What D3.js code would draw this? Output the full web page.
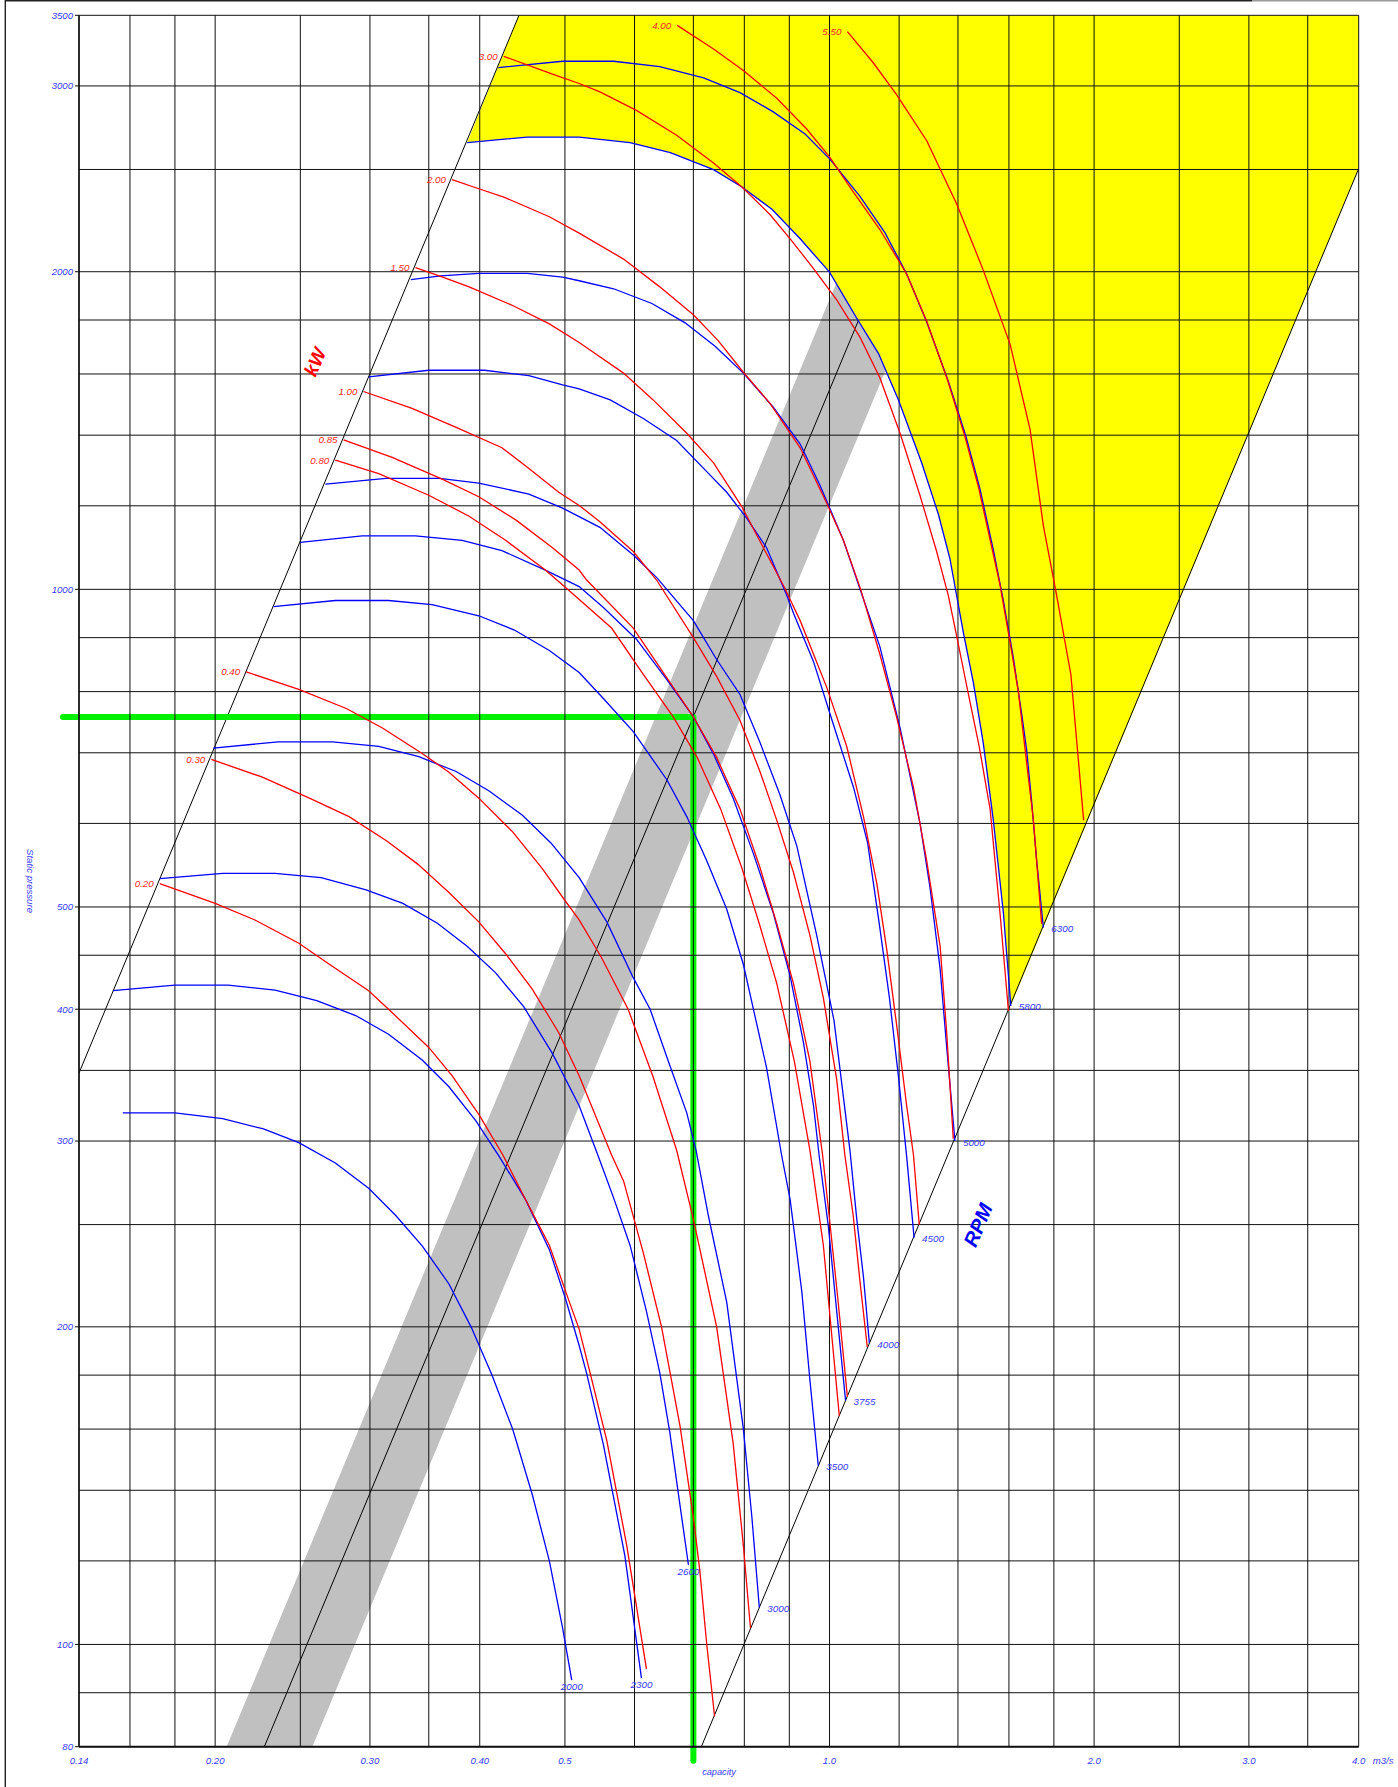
<!DOCTYPE html>
<html><head><meta charset="utf-8">
<script src="https://cdn.jsdelivr.net/npm/d3@7"></script>
<style>
body{margin:0;background:#fff}
text{font-family:"Liberation Sans",Arial,Helvetica,sans-serif;font-style:italic}
</style>
</head><body>
<svg id="c" width="1398" height="1787"></svg>
<script>
// ---------- axes / grid ----------
const xGrid = [0.14,0.16,0.18,0.2,0.25,0.3,0.35,0.4,0.5,0.6,0.7,0.8,0.9,1.0,1.2,1.4,1.6,1.8,2.0,2.5,3.0,3.5,4.0];
const yGrid = [80,90,100,120,140,160,180,200,250,300,350,400,450,500,600,700,800,900,1000,1200,1400,1600,1800,2000,2500,3000,3500];
const xTickValues = [0.14,0.20,0.30,0.40,0.5,1.0,2.0,3.0,4.0];
const xTickLabels = ["0.14","0.20","0.30","0.40","0.5","1.0","2.0","3.0","4.0"];
const yTickValues = [3500,3000,2000,1000,500,400,300,200,100,80];

// ---------- fan curves (capacity m3/s, static pressure) ----------
const rpm2000 = [[0.157,319],[0.180,319],[0.204,315],[0.227,308],[0.249,299],[0.274,286],[0.299,270.6],[0.321,255],[0.344,238.7],[0.369,219.6],[0.391,200],[0.413,180],[0.436,160],[0.459,138.7],[0.480,120],[0.497,103.6],[0.509,92.5]];
const rpm2300 = [[0.153,416.5],[0.180,421.6],[0.207,421.6],[0.234,417],[0.261,407.6],[0.289,394.5],[0.315,378.7],[0.344,358],[0.369,337.7],[0.396,313.5],[0.421,290],[0.451,264],[0.480,236.7],[0.501,212.4],[0.519,192],[0.529,181],[0.553,154.7],[0.585,121.4],[0.611,92.9]];
const rpm2600 = [[0.173,532],[0.204,538],[0.234,538],[0.264,533],[0.297,519],[0.327,504],[0.358,482.5],[0.387,459],[0.417,433],[0.449,402],[0.484,363],[0.519,324],[0.545,291],[0.568,265],[0.593,239],[0.619,207],[0.641,181],[0.658,159],[0.673,139],[0.691,119]];
const rpm3000 = [[0.199,707],[0.236,717],[0.272,717],[0.307,710],[0.341,694],[0.376,672],[0.410,644],[0.447,611],[0.482,575],[0.519,533],[0.558,484],[0.598,428.5],[0.625,400],[0.658,354],[0.688,319],[0.705,294],[0.728,255],[0.764,211],[0.798,160],[0.816,132],[0.832,108.4]];
const rpm3500 = [[0.233,963],[0.274,976],[0.315,976],[0.353,967],[0.399,944],[0.438,915],[0.480,875],[0.519,834],[0.553,788],[0.598,733],[0.653,660],[0.688,609],[0.725,553],[0.764,497.5],[0.798,441],[0.848,352],[0.882,291],[0.902,264],[0.930,216],[0.950,178],[0.971,147.7]];
const rpm3755 = [[0.250,1108],[0.294,1124],[0.338,1124],[0.382,1113],[0.424,1088],[0.475,1043],[0.519,1006],[0.553,961],[0.603,897],[0.653,821],[0.700,757],[0.738,698],[0.777,634],[0.819,562],[0.863,493.5],[0.902,430],[0.934,372],[0.959,324],[0.973,291],[0.997,249],[1.019,207],[1.043,170.2]];
const rpm4000 = [[0.267,1258],[0.313,1274],[0.360,1274],[0.399,1261],[0.455,1231],[0.497,1194],[0.548,1145],[0.598,1078],[0.636,1026],[0.700,934],[0.744,858],[0.791,795],[0.834,715],[0.878,639],[0.918,571],[0.967,470],[1.012,390],[1.055,294],[1.074,253],[1.093,223],[1.110,193]];
const rpm4500 = [[0.299,1590],[0.350,1613],[0.405,1613],[0.455,1594],[0.497,1562],[0.519,1549],[0.563,1512],[0.614,1452],[0.670,1384],[0.719,1302],[0.764,1236],[0.805,1168],[0.848,1095],[0.894,987],[0.910,949],[0.959,854],[1.010,745],[1.065,649],[1.105,575],[1.140,480],[1.170,410],[1.198,345],[1.224,290],[1.248,243]];
const rpm5000 = [[0.334,1966],[0.361,1982],[0.399,1993],[0.453,1993],[0.497,1977],[0.519,1961],[0.568,1927],[0.628,1866],[0.685,1789],[0.741,1700],[0.798,1603],[0.863,1488],[0.926,1373],[0.975,1256],[1.037,1113],[1.088,990],[1.141,882.5],[1.203,739],[1.268,599],[1.301,522],[1.336,437],[1.359,369],[1.389,300]];
const rpm5800 = [[0.387,2651],[0.453,2683],[0.519,2683],[0.593,2651],[0.659,2594],[0.738,2499],[0.795,2406],[0.860,2292],[0.926,2149],[1.000,1998],[1.074,1807],[1.137,1673],[1.198,1512],[1.273,1318],[1.330,1178],[1.371,1069],[1.395,987],[1.420,910],[1.458,815],[1.496,715],[1.536,604],[1.577,493.5],[1.608,403]];
const rpm6300 = [[0.420,3123],[0.497,3166],[0.568,3166],[0.641,3129],[0.719,3053],[0.791,2956],[0.863,2835],[0.938,2701],[1.001,2557],[1.083,2358],[1.157,2176],[1.224,1990],[1.290,1792],[1.365,1575],[1.430,1395],[1.483,1245],[1.536,1090],[1.577,975],[1.619,860],[1.655,760],[1.676,704],[1.698,630],[1.721,552],[1.751,478]];

// ---------- power curves (kW) ----------
const kw020 = [[0.173,526],[0.200,504],[0.222,486],[0.249,462],[0.270,441],[0.299,416.5],[0.315,400],[0.350,368],[0.372,346],[0.399,318],[0.425,291],[0.451,264],[0.480,239],[0.505,212],[0.519,199],[0.534,181],[0.558,156],[0.588,124],[0.619,94.8]];
const kw030 = [[0.198,690],[0.226,664],[0.256,634],[0.284,609],[0.313,578],[0.340,549],[0.369,516],[0.399,484],[0.428,451.5],[0.459,418],[0.492,380],[0.519,346],[0.565,291],[0.583,275],[0.614,235],[0.644,200],[0.676,161],[0.700,132],[0.712,117.4],[0.725,100],[0.740,85.5]];
const kw040 = [[0.217,835],[0.249,804],[0.282,771],[0.310,739],[0.344,699],[0.369,671],[0.399,634],[0.436,589],[0.471,544],[0.501,506],[0.519,486],[0.550,448],[0.590,400],[0.630,345],[0.670,294],[0.700,253],[0.744,200],[0.777,155],[0.798,124],[0.813,103.6]];
const kw080 = [[0.274,1326],[0.307,1287],[0.350,1228],[0.389,1173],[0.428,1113],[0.475,1043],[0.505,998],[0.565,919],[0.612,834],[0.664,757],[0.707,693],[0.752,619],[0.795,544],[0.832,482],[0.871,423],[0.912,357],[0.950,294],[0.984,239],[1.001,205],[1.026,164.7]];
const kw085 = [[0.280,1386],[0.318,1334],[0.363,1271],[0.399,1224],[0.440,1163],[0.484,1095],[0.519,1043],[0.529,1021],[0.598,919],[0.647,834],[0.700,757],[0.744,693],[0.791,619],[0.834,544],[0.871,482],[0.910,423],[0.950,357],[0.982,291],[1.001,251],[1.023,211],[1.048,171.6]];
const kw100 = [[0.295,1540],[0.335,1484],[0.376,1424],[0.424,1362],[0.455,1302],[0.492,1236],[0.519,1201],[0.548,1159],[0.598,1086],[0.636,1020],[0.700,900],[0.744,827],[0.791,751],[0.834,671],[0.871,604],[0.910,539],[0.950,470],[0.984,410],[1.019,343],[1.041,291],[1.064,255],[1.083,221],[1.104,191.4]];
const kw150 = [[0.338,2018],[0.363,1977],[0.389,1935],[0.436,1858],[0.480,1785],[0.519,1714],[0.534,1686],[0.583,1603],[0.630,1512],[0.688,1406],[0.738,1318],[0.795,1197],[0.841,1095],[0.888,1005],[0.926,934],[0.993,807],[1.046,710],[1.093,609],[1.132,526],[1.162,455],[1.192,387],[1.224,324],[1.246,291],[1.265,250]];
const kw200 = [[0.372,2445],[0.399,2397],[0.426,2354],[0.480,2255],[0.519,2176],[0.583,2056],[0.641,1935],[0.700,1821],[0.747,1721],[0.798,1606],[0.856,1500],[0.926,1362],[0.993,1206],[1.037,1113],[1.085,1000],[1.141,868],[1.192,757],[1.246,649],[1.290,553],[1.336,459],[1.359,381],[1.383,301.6]];
const kw300 = [[0.426,3200],[0.484,3078],[0.519,3016],[0.548,2961],[0.603,2844],[0.670,2694],[0.738,2536],[0.795,2406],[0.856,2265],[0.902,2149],[0.959,2014],[1.019,1881],[1.083,1734],[1.141,1587],[1.203,1406],[1.268,1226],[1.324,1086],[1.365,987],[1.395,904],[1.439,795],[1.480,710],[1.523,619],[1.563,493.5],[1.598,398.4]];
const kw400 = [[0.671,3424],[0.738,3252],[0.798,3103],[0.871,2920],[0.942,2731],[1.001,2567],[1.055,2406],[1.141,2193],[1.224,1990],[1.290,1795],[1.362,1580],[1.425,1398],[1.478,1248],[1.530,1095],[1.563,1010],[1.605,890],[1.640,800],[1.662,727],[1.706,604],[1.743,482]];
const kw550 = [[1.048,3377],[1.122,3154],[1.192,2944],[1.290,2662],[1.395,2320],[1.496,2007],[1.605,1707],[1.691,1418],[1.751,1149],[1.813,987],[1.882,830],[1.946,604]];

const rpmSeries = [
  {label:"2000", pts:rpm2000},{label:"2300", pts:rpm2300},{label:"2600", pts:rpm2600},
  {label:"3000", pts:rpm3000},{label:"3500", pts:rpm3500},{label:"3755", pts:rpm3755},
  {label:"4000", pts:rpm4000},{label:"4500", pts:rpm4500},{label:"5000", pts:rpm5000},
  {label:"5800", pts:rpm5800},{label:"6300", pts:rpm6300}
];
const kwSeries = [
  {label:"0.20", pts:kw020},{label:"0.30", pts:kw030},{label:"0.40", pts:kw040},
  {label:"0.80", pts:kw080},{label:"0.85", pts:kw085},{label:"1.00", pts:kw100},
  {label:"1.50", pts:kw150},{label:"2.00", pts:kw200},{label:"3.00", pts:kw300},
  {label:"4.00", pts:kw400},{label:"5.50", pts:kw550}
];
const rpmLabelsBelow = ["2000","2300","2600"];

// boundary lines, system curve, tolerance band, duty point
const kwBoundary  = [[0.14,348],[0.4433,3500]];
const rpmBoundary = [[0.7148,80],[4.0,2505]];
const systemLine  = [[0.2275,80],[1.10,1870]];
const bandLow     = [[0.2061,80],[1.129,2400]];
const bandHigh    = [[0.258,80],[1.413,2400]];
const dutyPoint   = [0.70,757];

// ---------- drawing ----------
const M = {l:79, t:15.3, r:1358.7, b:1746.7};
const x = d3.scaleLog().domain([0.14,4.0]).range([M.l,M.r]);
const y = d3.scaleLog().domain([80,3500]).range([M.b,M.t]);
const line = d3.line().x(d=>x(d[0])).y(d=>y(d[1]));
const svg = d3.select("#c");
const BLUE="#0000ff", RED="#ff0000", TBLUE="#3a3aff", TRED="#ff2a2a";

// page frame
svg.append("line").attr("x1",5.3).attr("x2",5.3).attr("y1",0).attr("y2",1787).attr("stroke","#222").attr("stroke-width",1.4);
svg.append("line").attr("x1",5).attr("x2",1252).attr("y1",0.7).attr("y2",0.7).attr("stroke","#222").attr("stroke-width",1.4);
svg.append("line").attr("x1",1252).attr("x2",1398).attr("y1",0.7).attr("y2",0.7).attr("stroke","#999").attr("stroke-width",1.4);

svg.append("defs").append("clipPath").attr("id","clip")
  .append("rect").attr("x",M.l).attr("y",M.t).attr("width",M.r-M.l).attr("height",M.b-M.t);
const g = svg.append("g").attr("clip-path","url(#clip)");

// grey band + system line
g.append("path").attr("d", line([bandLow[0], bandHigh[0], bandHigh[1], bandLow[1]])+"Z").attr("fill","#c0c0c0");
g.append("path").attr("d", line(systemLine)).attr("fill","none").attr("stroke","#000").attr("stroke-width",1);

// yellow forbidden zone: above the 5800 curve between the two boundary lines
const yellow = [[kwBoundary[1][0],3500], ...rpm5800, rpmBoundary[1], [4.0,3500]];
g.append("path").attr("d", line(yellow)+"Z").attr("fill","#ffff00");

// duty point (green) lines, under the grid
const gx = x(dutyPoint[0]), gy = y(dutyPoint[1]);
svg.append("path").attr("d",`M${M.l-16},${gy}H${gx}V${M.b+14}`)
  .attr("fill","none").attr("stroke","#00f000").attr("stroke-width",6)
  .attr("stroke-linecap","round").attr("stroke-linejoin","round");

// grid
const grid = svg.append("g").attr("stroke","#111").attr("stroke-width",1);
xGrid.forEach(v=>grid.append("line").attr("x1",x(v)).attr("x2",x(v)).attr("y1",M.t).attr("y2",M.b));
yGrid.forEach(v=>grid.append("line").attr("x1",M.l).attr("x2",M.r).attr("y1",y(v)).attr("y2",y(v)));
svg.append("line").attr("x1",M.l).attr("x2",M.r).attr("y1",M.b).attr("y2",M.b).attr("stroke","#111").attr("stroke-width",2);
svg.append("line").attr("x1",M.l).attr("x2",M.l).attr("y1",M.t).attr("y2",M.b).attr("stroke","#111").attr("stroke-width",1.5);

// y ticks + labels
yTickValues.forEach(v=>{
  svg.append("line").attr("x1",M.l-4).attr("x2",M.l).attr("y1",y(v)).attr("y2",y(v)).attr("stroke","#111");
  svg.append("text").attr("x",M.l-6).attr("y",y(v)+3.4).attr("text-anchor","end")
    .attr("font-size",9.6).attr("fill",TBLUE).text(v);
});
xTickValues.forEach((v,i)=>{
  svg.append("text").attr("x",x(v)).attr("y",M.b+17).attr("text-anchor","middle")
    .attr("font-size",9.6).attr("fill",TBLUE).text(xTickLabels[i]);
});
svg.append("text").attr("x",M.r+14).attr("y",M.b+17).attr("font-size",9.6).attr("fill",TBLUE).text("m3/s");
svg.append("text").attr("x",719).attr("y",M.b+28).attr("text-anchor","middle").attr("font-size",9.2).attr("fill",TBLUE).text("capacity");
svg.append("text").attr("transform","translate(27,881) rotate(90)").attr("text-anchor","middle")
  .attr("font-size",9.6).attr("fill",TBLUE).text("Static pressure");

// boundary lines
g.append("path").attr("d",line(kwBoundary)).attr("stroke","#000").attr("stroke-width",1).attr("fill","none");
g.append("path").attr("d",line(rpmBoundary)).attr("stroke","#000").attr("stroke-width",1).attr("fill","none");

// curves
const cg = svg.append("g").attr("fill","none").attr("stroke-width",1.3);
rpmSeries.forEach(s=>cg.append("path").attr("d",line(s.pts)).attr("stroke",BLUE));
kwSeries.forEach(s=>cg.append("path").attr("d",line(s.pts)).attr("stroke",RED));

// curve labels
rpmSeries.forEach(s=>{
  const e = s.pts[s.pts.length-1];
  const below = rpmLabelsBelow.includes(s.label);
  svg.append("text")
    .attr("x", below ? x(e[0]) : x(e[0])+8)
    .attr("y", below ? y(e[1])+10 : y(e[1])+4.5)
    .attr("text-anchor", below ? "middle" : "start")
    .attr("font-size",9.8).attr("fill",TBLUE).text(s.label);
});
kwSeries.forEach(s=>{
  const p = s.pts[0];
  svg.append("text").attr("x",x(p[0])-6).attr("y",y(p[1])+3.5).attr("text-anchor","end")
    .attr("font-size",9.8).attr("fill",TRED).text(s.label);
});

// axis titles on the boundary lines
svg.append("text").attr("transform","translate(315,362) rotate(-67)").attr("text-anchor","middle")
  .attr("font-size",19).attr("font-weight","bold").attr("fill","#ff0000").attr("dy","0.35em").text("kW");
svg.append("text").attr("transform","translate(978,1225) rotate(-67)").attr("text-anchor","middle")
  .attr("font-size",20).attr("font-weight","bold").attr("fill","#0000ff").attr("dy","0.35em").text("RPM");
</script>
</body></html>
